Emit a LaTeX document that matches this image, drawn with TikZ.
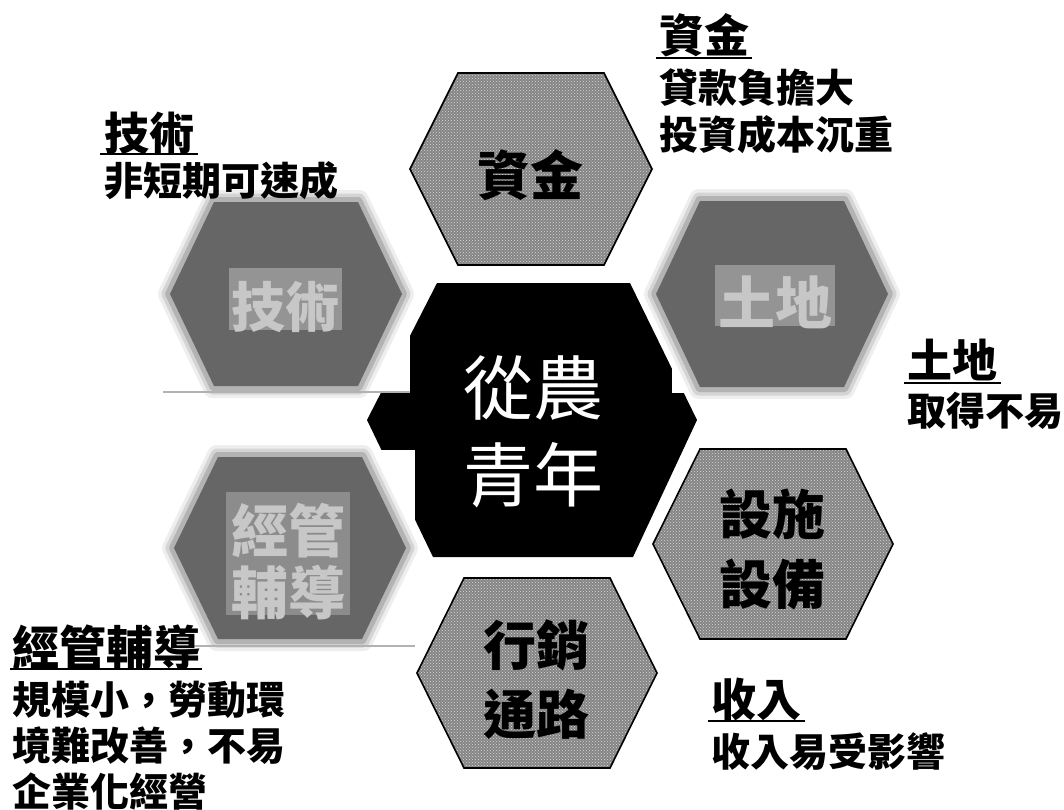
\documentclass[tikz,border=0pt]{standalone}
\usepackage{fontspec}
\newfontfamily\cjk{Noto Sans CJK TC}
\usetikzlibrary{patterns}
\newcommand\myhex[5]{({(#1)-(#3)},{#2}) -- ({(#1)-(#5)},{(#2)-(#4)}) -- ({(#1)+(#5)},{(#2)-(#4)}) -- ({(#1)+(#3)},{#2}) -- ({(#1)+(#5)},{(#2)+(#4)}) -- ({(#1)-(#5)},{(#2)+(#4)}) -- cycle}
\newcommand\blurhex[5]{%
  \fill[white] \myhex{#1}{#2}{(#3)+14}{(#4)+9}{(#5)+6};
  \draw[black!62, line width=20pt, opacity=0.10, line join=round] \myhex{#1}{#2}{(#3)-4}{(#4)-4}{(#5)-2};
  \draw[black!62, line width=13pt, opacity=0.18, line join=round] \myhex{#1}{#2}{(#3)-4}{(#4)-4}{(#5)-2};
  \draw[black!62, line width=6pt, opacity=0.28, line join=round] \myhex{#1}{#2}{(#3)-4}{(#4)-4}{(#5)-2};
  \fill[black!60] \myhex{#1}{#2}{(#3)-6}{(#4)-6}{(#5)-3};
}
\tikzset{
  grayhex/.style={fill=black!48, draw=black, line width=1.6pt, line join=miter},
  dotfill/.style={pattern=crosshatch dots, pattern color=white!85!black},
  hexlabel/.style={anchor=base, inner sep=0pt, text=black, font={\cjk\bfseries\fontsize{53}{53}\selectfont}},
  blurlabel/.style={anchor=base, inner sep=0pt, text=black!22, font={\cjk\bfseries\fontsize{54}{54}\selectfont}},
  centerlabel/.style={anchor=base, inner sep=0pt, text=white, font={\cjk\fontsize{70}{70}\selectfont}},
  headlabel/.style={anchor=base west, inner sep=0pt, text=black, font={\cjk\bfseries\fontsize{45}{45}\selectfont}},
  bodylabel/.style={anchor=base west, inner sep=0pt, text=black, font={\cjk\bfseries\fontsize{39}{39}\selectfont}},
  uline/.style={line width=2.4pt, black},
}
\begin{document}
\begin{tikzpicture}[x=1pt,y=-1pt]
\useasboundingbox (0,0) rectangle (1064,809);
\fill[white] (0,0) rectangle (1064,809);

% central black hexagon
\fill[black] (367,420) -- (437,283) -- (630,283) -- (697,420) -- (633,557) -- (433,557) -- cycle;

% blurred picture of "技術"
\fill[white] (163,195) rectangle (410,393);
\blurhex{286}{294}{122}{98}{75}
\fill[black!42] (229,268) rectangle (342,330);
\draw[black!30, line width=2pt] (163,392) -- (410,392);
\node[blurlabel] (jishu) at (285,327) {技術};

% blurred picture of "經管輔導"
\fill[white] (168,450) rectangle (415,648);
\blurhex{290}{548}{122}{97}{75}
\fill[black!45] (226,492) rectangle (350,615);
\draw[black!30, line width=2pt] (190,646) -- (415,646);
\node[blurlabel, font={\cjk\bfseries\fontsize{57}{57}\selectfont}] (jingguan1) at (288,552) {經管};
\node[blurlabel, font={\cjk\bfseries\fontsize{57}{57}\selectfont}] (jingguan2) at (288,614) {輔導};

% blurred picture of "土地"
\fill[white] (672,190) rectangle (900,393);
\blurhex{772}{294}{122}{99}{75}
\fill[black!42] (715,265) rectangle (835,326);
\node[blurlabel, font={\cjk\bfseries\fontsize{57}{57}\selectfont}] (tudi) at (775,324) {土地};

% grey hexagons
\fill[black!48] \myhex{531}{169}{121}{96}{73};
\fill[dotfill] \myhex{531}{169}{121}{96}{73};
\draw[grayhex, fill=none] \myhex{531}{169}{121}{96}{73};
\node[hexlabel] (zijin) at (530,195) {資金};

\fill[black!48] \myhex{773}{544}{120}{95}{73};
\fill[dotfill] \myhex{773}{544}{120}{95}{73};
\draw[grayhex, fill=none] \myhex{773}{544}{120}{95}{73};
\node[hexlabel] (sheshi1) at (772,534) {設施};
\node[hexlabel] (sheshi2) at (772,604) {設備};

\fill[black!48] \myhex{537}{673}{120}{95}{73};
\fill[dotfill] \myhex{537}{673}{120}{95}{73};
\draw[grayhex, fill=none] \myhex{537}{673}{120}{95}{73};
\node[hexlabel] (xiao1) at (536,665) {行銷};
\node[hexlabel] (xiao2) at (536,734) {通路};

% central text
\node[centerlabel] (cong1) at (533,414) {從農};
\node[centerlabel] (cong2) at (533,501) {青年};

% labels
\node[headlabel] (hzj) at (659,52) {資金};
\draw[uline] ([shift={(-3,6)}]hzj.base west) -- ([shift={(3,6)}]hzj.base east);
\node[bodylabel] (bzj1) at (659,102) {貸款負擔大};
\node[bodylabel] (bzj2) at (659,149) {投資成本沉重};

\node[headlabel] (hjs) at (104,150) {技術};
\draw[uline] ([shift={(-4,4)}]hjs.base west) -- ([shift={(4,4)}]hjs.base east);
\node[bodylabel] (bjs) at (104,195) {非短期可速成};

\node[headlabel] (htd) at (907,377) {土地};
\draw[uline] ([shift={(-3,6)}]htd.base west) -- ([shift={(4,6)}]htd.base east);
\node[bodylabel] (btd) at (907,425) {取得不易};

\node[headlabel] (hsr) at (711,716) {收入};
\draw[uline] ([shift={(-3,5)}]hsr.base west) -- ([shift={(4,5)}]hsr.base east);
\node[bodylabel] (bsr) at (711,766) {收入易受影響};

\node[headlabel, font={\cjk\bfseries\fontsize{47}{47}\selectfont}] (hjg) at (12,665) {經管輔導};
\draw[uline] ([shift={(-2,4)}]hjg.base west) -- ([shift={(2,4)}]hjg.base east);
\node[bodylabel] (bjg1) at (12,714) {規模小，勞動環};
\node[bodylabel] (bjg2) at (12,760) {境難改善，不易};
\node[bodylabel] (bjg3) at (12,806) {企業化經營};
\end{tikzpicture}
\end{document}
